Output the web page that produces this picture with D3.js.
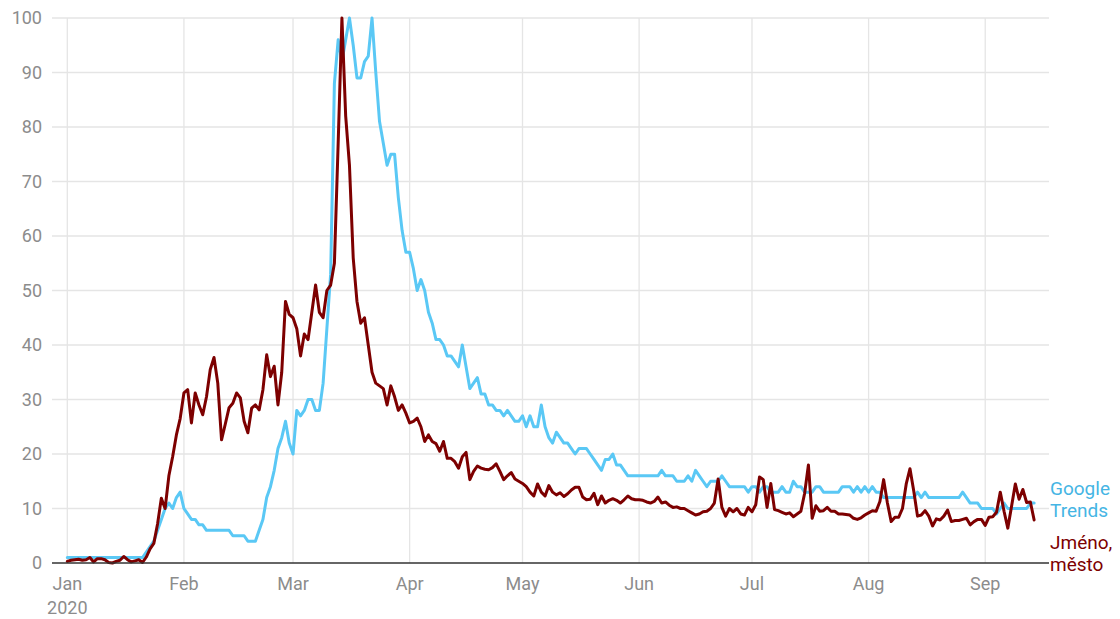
<!DOCTYPE html>
<html>
<head>
<meta charset="utf-8">
<script src="https://cdn.jsdelivr.net/npm/d3@7"></script>
<style>
  html, body { margin: 0; padding: 0; background: #fff; }
  svg { display: block; font-family: Roboto, "Noto Sans", sans-serif; }
</style>
</head>
<body>
<svg id="chart" width="1120" height="619"></svg>
<script>
// ---- data (daily, starting 2020-01-01) ----
const startDate = "2020-01-01";
const seriesNames = ["Google Trends", "Jméno, město"];
const yTicks = [0, 10, 20, 30, 40, 50, 60, 70, 80, 90, 100];
const monthTicks = ["2020-01-01","2020-02-01","2020-03-01","2020-04-01","2020-05-01","2020-06-01","2020-07-01","2020-08-01","2020-09-01"];
const monthLabels = ["Jan","Feb","Mar","Apr","May","Jun","Jul","Aug","Sep"];
const yearLabel = "2020";

const googleTrends = [
  // Jan
  1,1,1,1,1,1,1,1,1,1,1,1,1,1,1,1,1,1,1,1,1,2,3,4,6,8,10,11,10,12,13,
  // Feb
  10,9,8,8,7,7,6,6,6,6,6,6,6,5,5,5,5,4,4,4,6,8,12,14,17,21,23,26,22,
  // Mar
  20,28,27,28,30,30,28,28,33,43,53,88,96,92,96,100,95,89,89,92,93,100,90,81,77,73,75,75,67,61,57,
  // Apr
  57,54,50,52,50,46,44,41,41,40,38,38,37,36,40,36,32,33,34,31,31,29,29,28,28,27,28,27,26,26,
  // May
  27,25,27,25,25,29,25,23,22,24,23,22,22,21,20,21,21,21,20,19,18,17,19,19,20,18,18,17,16,16,16,
  // Jun
  16,16,16,16,16,16,17,16,16,16,15,15,15,16,15,17,16,15,14,15,15,15,16,15,14,14,14,14,14,13,
  // Jul
  14,14,13,14,14,13,13,13,14,13,13,15,14,14,13,13,13,14,14,13,13,13,13,13,14,14,14,13,14,13,14,
  // Aug
  13,14,13,13,12,12,12,12,12,12,12,12,12,13,12,13,12,12,12,12,12,12,12,12,12,13,12,11,11,11,10,
  // Sep
  10,10,10,9,10,11,10,10,10,10,10,10,11,11
];

const jmenoMesto = [
  // Jan
  0.3,0.5,0.6,0.7,0.5,0.6,1.0,0.2,0.8,0.8,0.6,0.1,0.0,0.3,0.5,1.2,0.6,0.2,0.4,0.6,0.1,1.1,2.6,3.6,7.2,11.9,10,16,19.5,23.5,26.5,
  // Feb
  31.2,31.8,25.7,31.2,29,27.2,30.5,35.5,37.7,33,22.6,25.5,28.5,29.3,31.2,30.3,26,23.9,28.4,29,28.1,31.8,38.2,34.2,36.1,29,35,48,45.6,
  // Mar
  45,43,38,42,41,46,51,46,45,50,51,55,77,100,82,73,56,48,44,45,40,35,33,32.5,32,29,32.5,30.5,28,29,27.5,
  // Apr
  25.7,26,26.6,25,22.3,23.5,22.3,21.9,20.5,22.3,19.2,19.2,18.6,17.4,19.5,20.3,15.3,16.8,17.8,17.4,17.2,17.1,17.5,18.2,16.8,15.3,16,16.6,15.4,15,
  // May
  14.6,14,13,12.3,14.5,13,12.3,14.2,13,12.5,12.9,12.2,12.7,13.4,13.9,13.9,12.1,11.6,11.7,12.8,10.7,12.3,11,11.5,11.8,11.5,11,11.6,12.3,11.8,11.6,
  // Jun
  11.6,11.5,11.2,11,11.3,12.1,11,11.2,10.6,10.2,10.3,10,10,9.6,9.2,8.8,9,9.4,9.5,10,11,15.4,10.2,8.6,10,9.4,10,9,8.8,10.2,
  // Jul
  9.4,10.7,15.8,15.3,10.2,14.6,9.8,9.6,9.3,9,9.2,8.5,9,9.5,12.8,18,8.2,10.5,9.5,9.6,10.2,9.5,9.5,9,9,8.9,8.8,8.2,8,8.3,8.8,
  // Aug
  9.2,9.6,9.5,11.3,15.3,11,7.6,8.4,8.4,10,14.5,17.3,13.2,8.6,8.8,9.6,8.6,6.8,8.1,7.9,8.6,9.7,7.6,7.8,7.8,8,8.2,7,7.6,8,8,
  // Sep
  6.9,8.4,8.5,9.3,13,9.5,6.4,10.4,14.5,11.7,13.5,11.1,11.2,7.9
];

// ---- layout ----
const plot = { left: 52, right: 1049, top: 18, bottom: 563 };
const colors = { trends: "#5ac8f5", jmeno: "#7d0000", trendsText: "#45b5e4", grid: "#e5e5e5", tick: "#8c8c8c", axis: "#333" };

const t0 = new Date(startDate + "T00:00:00Z");
const dayMs = 86400000;
const dateAt = i => new Date(t0.getTime() + i * dayMs);

const trendsData = googleTrends.map((v, i) => ({ date: dateAt(i), value: v }));
const jmenoData = jmenoMesto.map((v, i) => ({ date: dateAt(i), value: v }));

const lastIndex = googleTrends.length - 1;
const x = d3.scaleUtc()
  .domain([t0, dateAt(lastIndex)])
  .range([67.3, 67.3 + lastIndex * 3.762]);
const y = d3.scaleLinear().domain([0, 100]).range([plot.bottom, plot.top]);

const svg = d3.select("#chart");

// horizontal grid
svg.append("g").selectAll("line").data(yTicks.filter(t => t > 0)).join("line")
  .attr("x1", plot.left).attr("x2", plot.right)
  .attr("y1", d => y(d)).attr("y2", d => y(d))
  .attr("stroke", colors.grid).attr("stroke-width", 1.3);

// vertical grid
const monthDates = monthTicks.map(s => new Date(s + "T00:00:00Z"));
svg.append("g").selectAll("line").data(monthDates).join("line")
  .attr("x1", d => x(d)).attr("x2", d => x(d))
  .attr("y1", plot.top).attr("y2", plot.bottom)
  .attr("stroke", colors.grid).attr("stroke-width", 1.3);

// y tick labels
svg.append("g").selectAll("text").data(yTicks).join("text")
  .attr("x", 42).attr("y", d => y(d))
  .attr("dy", "0.35em")
  .attr("text-anchor", "end")
  .attr("fill", colors.tick)
  .attr("font-size", 18)
  .text(d => d);

// x tick labels
const xLab = svg.append("g");
xLab.selectAll("text.m").data(monthDates).join("text")
  .attr("class", "m")
  .attr("x", d => x(d)).attr("y", 590)
  .attr("text-anchor", "middle")
  .attr("fill", colors.tick)
  .attr("font-size", 18)
  .text((d, i) => monthLabels[i]);
xLab.append("text")
  .attr("x", x(monthDates[0])).attr("y", 614)
  .attr("text-anchor", "middle")
  .attr("fill", colors.tick)
  .attr("font-size", 18)
  .text(yearLabel);

// lines
const line = d3.line().x(d => x(d.date)).y(d => y(d.value));
svg.append("path").datum(trendsData)
  .attr("d", line).attr("fill", "none")
  .attr("stroke", colors.trends).attr("stroke-width", 3)
  .attr("stroke-linejoin", "round").attr("stroke-linecap", "round");
svg.append("path").datum(jmenoData)
  .attr("d", line).attr("fill", "none")
  .attr("stroke", colors.jmeno).attr("stroke-width", 3)
  .attr("stroke-linejoin", "round").attr("stroke-linecap", "round");

// baseline axis
svg.append("line")
  .attr("x1", plot.left).attr("x2", plot.right)
  .attr("y1", y(0)).attr("y2", y(0))
  .attr("stroke", colors.axis).attr("stroke-width", 1.5);

// series labels at line ends
const labelX = plot.right + 1;
const tY = y(googleTrends[lastIndex]) - 8;
const t1 = svg.append("text").attr("x", labelX).attr("y", tY)
  .attr("fill", colors.trendsText).attr("font-size", 19);
t1.append("tspan").attr("x", labelX).attr("dy", 0).text("Google");
t1.append("tspan").attr("x", labelX).attr("dy", 22).text("Trends");
const jY = tY + 54;
const t2 = svg.append("text").attr("x", labelX).attr("y", jY)
  .attr("fill", colors.jmeno).attr("font-size", 19);
t2.append("tspan").attr("x", labelX).attr("dy", 0).text("Jméno,");
t2.append("tspan").attr("x", labelX).attr("dy", 22).text("město");
</script>
</body>
</html>
